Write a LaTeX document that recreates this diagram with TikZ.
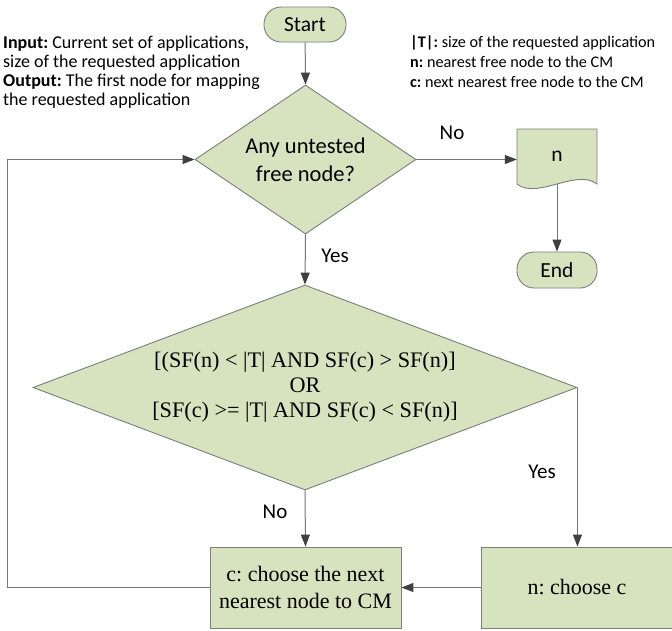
\documentclass[tikz,border=0pt]{standalone}
\usepackage{fontspec}
\setmainfont{Carlito}
\newfontfamily\tnr{Liberation Serif}
\usetikzlibrary{shapes.geometric,arrows.meta}
\frenchspacing

\definecolor{boxfill}{RGB}{215,227,190}
\definecolor{edgegray}{RGB}{125,125,125}
\definecolor{linegray}{RGB}{118,118,118}
\definecolor{tipgray}{RGB}{64,64,64}

\begin{document}
\begin{tikzpicture}[x=1pt,y=-1pt,
  shapebase/.style={draw=edgegray, fill=boxfill, line width=0.9pt, inner sep=0pt, align=center},
  terminal/.style={shapebase, rectangle, rounded corners=17pt, minimum width=82pt, minimum height=35pt,
                   font=\fontsize{21.5}{25}\selectfont},
  decision/.style={shapebase, diamond},
  process/.style={shapebase, rectangle, minimum width=191pt, minimum height=81pt,
                  font=\tnr\fontsize{22}{27}\selectfont},
  flow/.style={draw=linegray, line width=1pt, -{Triangle[length=12pt,width=9pt,color=tipgray]}},
  lbl/.style={font=\fontsize{21}{25}\selectfont, inner sep=0pt},
  note/.style={align=left, inner sep=0pt, anchor=north west}
]
\useasboundingbox (0,0) rectangle (672,630);

% notes
\node[note, font=\fontsize{18}{19}\selectfont] (inputs) at (3,36) {\textbf{Input:} Current set of applications,\\
  size of the requested application\\
  \textbf{Output:} The first node for mapping\\
  the requested application};
\node[note, font=\fontsize{16.2}{20.2}\selectfont] (legend) at (410,35) {\textbf{|T|:} size of the requested application\\
  \textbf{n:} nearest free node to the CM\\
  \textbf{c:} next nearest free node to the CM};

% shapes
\node[terminal] (start) at (305,24.5) {Start};
\node[decision, minimum width=221pt, minimum height=149pt, shape aspect=1.48,
      font=\fontsize{22.5}{28}\selectfont] (d1) at (305.5,159.5) {Any untested\\free node?};

% document shape for the result n
\path[shapebase] (517,129) -- (597,129) -- (597,184)
   .. controls (577,168) and (537,200) .. (517,184) -- cycle;
\node[inner sep=0pt, minimum width=80pt, minimum height=55pt,
      font=\fontsize{21.5}{25}\selectfont] (doc) at (557,156.5) {n};
\coordinate (docbot) at (557,184);

\node[terminal, minimum width=80pt, minimum height=36pt] (end) at (557,270) {End};

\node[decision, minimum width=544pt, minimum height=205pt, shape aspect=2.65,
      font=\tnr\fontsize{22.2}{25}\selectfont] (d2) at (305,387.5)
  {[(SF(n) < |T| AND SF(c) > SF(n)]\\OR\\[0pt][SF(c) >= |T| AND SF(c) < SF(n)]};

\node[process] (cbox) at (305.5,587.5) {c: choose the next\\nearest node to CM};
\node[process, minimum width=192pt] (nbox) at (577,587.5) {n: choose c};

\coordinate (loopx) at (7,0);

% connectors
\draw[flow] (start) -- (d1.north);
\draw[flow] (d1.east) -- (d1.east -| doc.west);
\draw[flow] (docbot) -- (end.north);
\draw[flow] (d1.south) -- (d2.north);
\draw[flow] (d2.south) -- (cbox.north);
\draw[flow] (d2.east) -- (d2.east |- nbox.north);
\draw[flow] (nbox.west) -- (cbox.east);
\draw[flow] (cbox.west) -- (cbox.west -| loopx) |- (d1.west);

% branch labels
\node[lbl] (no1) at (452,133) {No};
\node[lbl] (yes1) at (335,256) {Yes};
\node[lbl] (no2) at (275,512) {No};
\node[lbl] (yes2) at (542,472) {Yes};
\end{tikzpicture}
\end{document}
